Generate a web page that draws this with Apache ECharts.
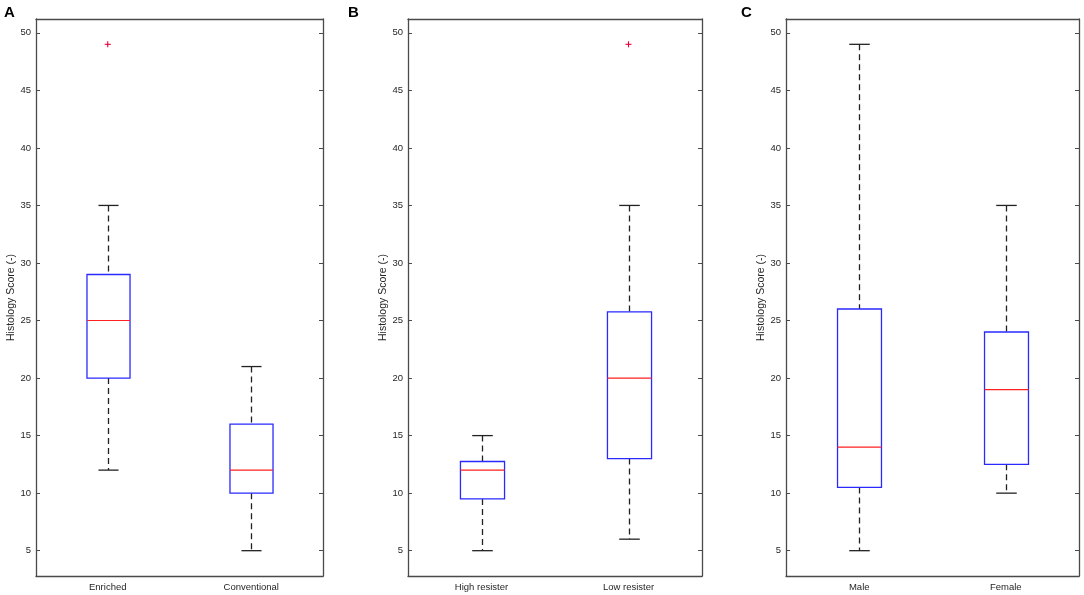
<!DOCTYPE html>
<html>
<head>
<meta charset="utf-8">
<script src="https://cdn.jsdelivr.net/npm/echarts@6/dist/echarts.min.js"></script>
<style>html,body{margin:0;padding:0;background:#fff}#c{width:1084px;height:595px}</style>
</head>
<body>
<div id="c"></div>
<script>
// ---- Data ----
const categoriesA = ['Enriched', 'Conventional'];
const whiskerLowA = [12, 5];
const q1A = [20, 10];
const medianA = [25, 12];
const q3A = [29, 16];
const whiskerHighA = [35, 21];
const outliersA = [[0, 49]];

const categoriesB = ['High resister', 'Low resister'];
const whiskerLowB = [5, 6];
const q1B = [9.5, 13];
const medianB = [12, 20];
const q3B = [12.75, 25.75];
const whiskerHighB = [15, 35];
const outliersB = [[1, 49]];

const categoriesC = ['Male', 'Female'];
const whiskerLowC = [5, 10];
const q1C = [10.5, 12.5];
const medianC = [14, 19];
const q3C = [26, 24];
const whiskerHighC = [49, 35];
const outliersC = [];

const yMin = 2.8, yMax = 51.2;
const panelLetters = ['A', 'B', 'C'];
const yAxisTitle = 'Histology Score (-)';

// ---- Layout ----
const grids = [
  {left: 36, right: 1084 - 323, top: 19, bottom: 19},
  {left: 408, right: 1084 - 702, top: 19, bottom: 19},
  {left: 786, right: 1084 - 1079, top: 19, bottom: 19}
];
const letterX = [4, 348, 741];
const panels = [
  {cats: categoriesA, lo: whiskerLowA, q1: q1A, med: medianA, q3: q3A, hi: whiskerHighA, out: outliersA},
  {cats: categoriesB, lo: whiskerLowB, q1: q1B, med: medianB, q3: q3B, hi: whiskerHighB, out: outliersB},
  {cats: categoriesC, lo: whiskerLowC, q1: q1C, med: medianC, q3: q3C, hi: whiskerHighC, out: outliersC}
];

const axisColor = '#4a4a4a';
const textColor = '#262626';
const fontFamily = 'Arial, "Liberation Sans", Helvetica, sans-serif';

function renderBox(params, api) {
  const x = api.value(0);
  const lo = api.coord([x, api.value(1)]);
  const q1 = api.coord([x, api.value(2)]);
  const med = api.coord([x, api.value(3)]);
  const q3 = api.coord([x, api.value(4)]);
  const hi = api.coord([x, api.value(5)]);
  const band = api.size([1, 0])[0];
  const half = band * 0.15;
  const cap = band * 0.07;
  const cx = Math.round(lo[0]) + 0.5;
  const wStyle = {stroke: '#222', lineWidth: 1.3, lineDash: [6, 4]};
  const cStyle = {stroke: '#222', lineWidth: 1.3};
  return {
    type: 'group',
    children: [
      {type: 'line', shape: {x1: cx, y1: hi[1], x2: cx, y2: q3[1]}, style: wStyle},
      {type: 'line', shape: {x1: cx, y1: q1[1], x2: cx, y2: lo[1]}, style: wStyle},
      {type: 'line', shape: {x1: cx - cap, y1: hi[1], x2: cx + cap, y2: hi[1]}, style: cStyle},
      {type: 'line', shape: {x1: cx - cap, y1: lo[1], x2: cx + cap, y2: lo[1]}, style: cStyle},
      {type: 'rect', shape: {x: cx - half, y: q3[1], width: 2 * half, height: q1[1] - q3[1]},
        style: {fill: 'none', stroke: '#2a2aff', lineWidth: 1.3}},
      {type: 'line', shape: {x1: cx - half, y1: med[1], x2: cx + half, y2: med[1]},
        style: {stroke: '#ff2020', lineWidth: 1.2}}
    ]
  };
}

function renderPlus(params, api) {
  const p = api.coord([api.value(0), api.value(1)]);
  const s = 3;
  const st = {stroke: '#e8003a', lineWidth: 1.1};
  return {
    type: 'group',
    children: [
      {type: 'line', shape: {x1: p[0] - s, y1: p[1], x2: p[0] + s, y2: p[1]}, style: st},
      {type: 'line', shape: {x1: p[0], y1: p[1] - s, x2: p[0], y2: p[1] + s}, style: st}
    ]
  };
}

const xAxes = [], yAxes = [], series = [], titles = [];
panels.forEach((p, i) => {
  xAxes.push({
    type: 'category', gridIndex: i, data: p.cats, position: 'bottom', boundaryGap: true,
    axisLine: {lineStyle: {color: axisColor, width: 1.3}},
    axisTick: {inside: true, alignWithLabel: true, length: 4, lineStyle: {color: axisColor}},
    axisLabel: {color: textColor, fontSize: 9.5, fontFamily, margin: 6},
    splitLine: {show: false}
  });
  xAxes.push({
    type: 'category', gridIndex: i, data: p.cats, position: 'top', boundaryGap: true,
    axisLine: {lineStyle: {color: axisColor, width: 1.3}},
    axisTick: {inside: true, alignWithLabel: true, length: 4, lineStyle: {color: axisColor}},
    axisLabel: {show: false}, splitLine: {show: false}
  });
  yAxes.push({
    type: 'value', gridIndex: i, min: yMin, max: yMax, splitNumber: 10, position: 'left',
    name: yAxisTitle, nameLocation: 'middle', nameGap: 13,
    nameTextStyle: {color: textColor, fontSize: 10.5, fontFamily},
    axisLine: {show: true, lineStyle: {color: axisColor, width: 1.3}},
    axisTick: {show: true, inside: true, length: 4, lineStyle: {color: axisColor}},
    axisLabel: {color: textColor, fontSize: 9.5, fontFamily, margin: 5,
      formatter: v => (Math.abs(v / 5 - Math.round(v / 5)) < 1e-6 ? String(Math.round(v)) : '')},
    splitLine: {show: false}
  });
  yAxes.push({
    type: 'value', gridIndex: i, min: yMin, max: yMax, splitNumber: 10, position: 'right',
    axisLine: {show: true, lineStyle: {color: axisColor, width: 1.3}},
    axisTick: {show: true, inside: true, length: 4, lineStyle: {color: axisColor}},
    axisLabel: {show: false}, splitLine: {show: false}
  });
  const boxData = p.cats.map((c, k) => [k, p.lo[k], p.q1[k], p.med[k], p.q3[k], p.hi[k]]);
  series.push({
    type: 'custom', xAxisIndex: 2 * i, yAxisIndex: 2 * i, renderItem: renderBox,
    data: boxData, encode: {x: 0, y: [1, 2, 3, 4, 5]}, silent: true, clip: false
  });
  if (p.out.length) {
    series.push({
      type: 'custom', xAxisIndex: 2 * i, yAxisIndex: 2 * i, renderItem: renderPlus,
      data: p.out, encode: {x: 0, y: 1}, silent: true
    });
  }
  titles.push({
    text: panelLetters[i], left: letterX[i], top: 5, padding: 0,
    textStyle: {fontSize: 15, fontWeight: 'bold', color: '#000', fontFamily}
  });
});

const chart = echarts.init(document.getElementById('c'), null, {renderer: 'canvas'});
chart.setOption({
  animation: false,
  backgroundColor: '#fff',
  title: titles,
  grid: grids,
  xAxis: xAxes,
  yAxis: yAxes,
  series: series
});
</script>
</body>
</html>
